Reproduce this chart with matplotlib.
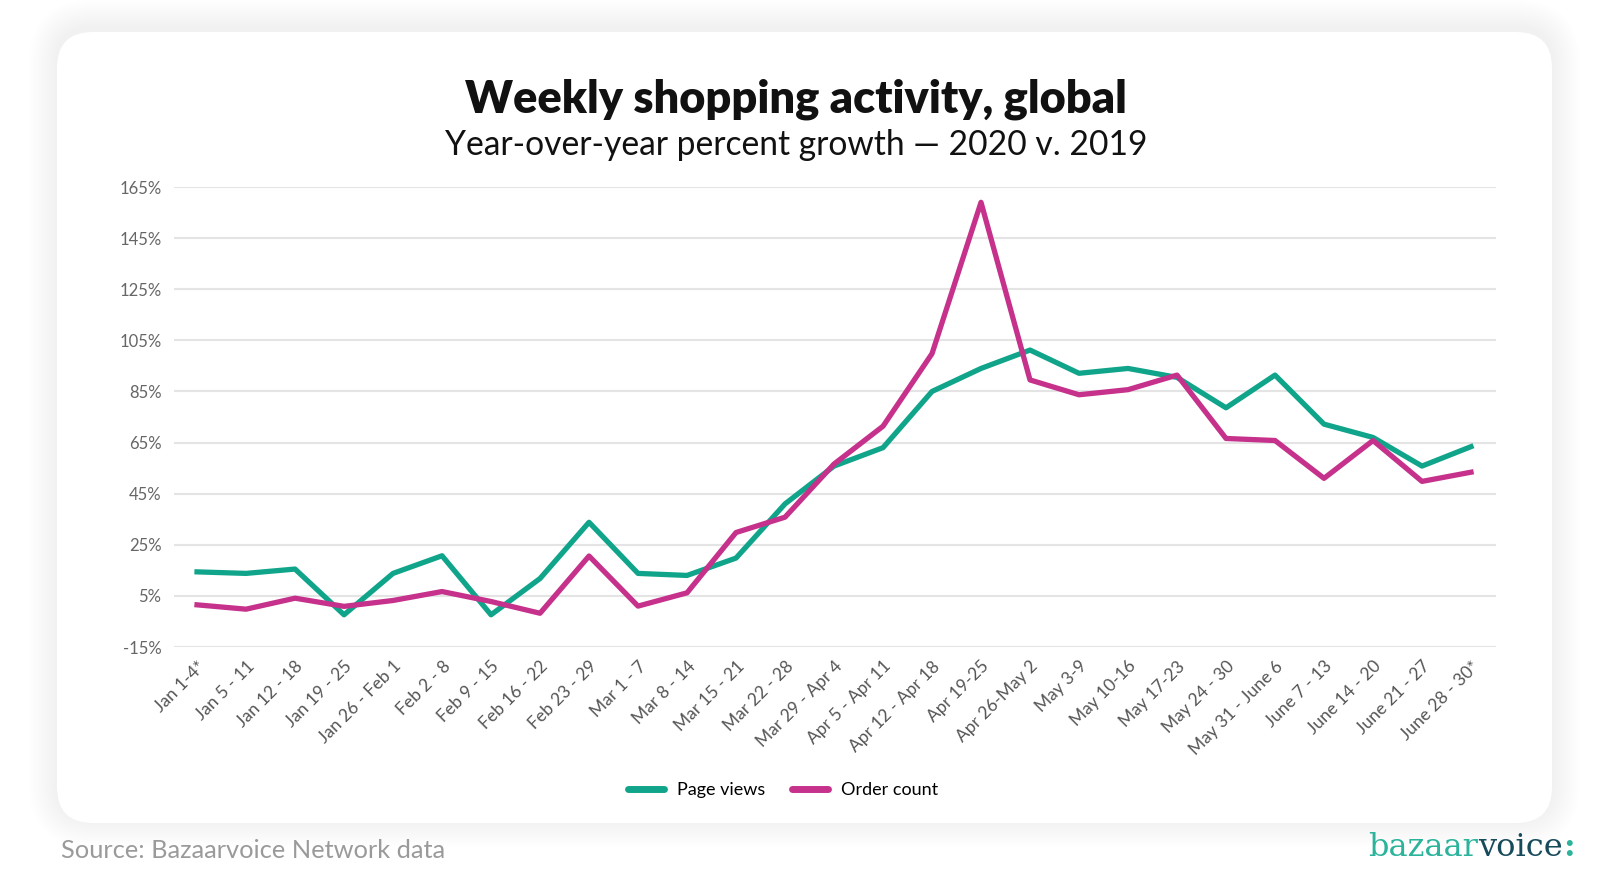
import matplotlib.pyplot as plt
from matplotlib.patches import FancyBboxPatch
import numpy as np

weeks = ["Jan 1-4*", "Jan 5 - 11", "Jan 12 - 18", "Jan 19 - 25", "Jan 26 - Feb 1",
         "Feb 2 - 8", "Feb 9 - 15", "Feb 16 - 22", "Feb 23 - 29", "Mar 1 - 7",
         "Mar 8 - 14", "Mar 15 - 21", "Mar 22 - 28", "Mar 29 - Apr 4", "Apr 5 - Apr 11",
         "Apr 12 - Apr 18", "Apr 19-25", "Apr 26-May 2", "May 3-9", "May 10-16",
         "May 17-23", "May 24 - 30", "May 31 - June 6", "June 7 - 13", "June 14 - 20",
         "June 21 - 27", "June 28 - 30*"]
page_views = [14.4, 13.8, 15.5, -2.4, 13.8, 20.7, -2.4, 11.8, 33.8, 13.8,
              13.0, 19.8, 41.0, 55.8, 63.0, 85.0, 94.0, 101.2, 92.1, 94.0,
              90.5, 78.6, 91.4, 72.2, 67.0, 55.8, 63.4]
order_count = [1.5, -0.2, 4.1, 0.9, 3.2, 6.7, 2.8, -1.8, 20.6, 1.0,
               6.2, 29.8, 35.8, 56.6, 71.4, 99.8, 159.0, 89.5, 83.7, 85.7,
               91.4, 66.6, 65.8, 51.0, 65.8, 49.8, 53.4]
y_ticks = [-15, 5, 25, 45, 65, 85, 105, 125, 145, 165]

teal = "#10a58b"
magenta = "#c5318b"

W, H = 1600, 894
fig = plt.figure(figsize=(16, 8.94), dpi=100)
fig.patch.set_facecolor("white")

# card (pixel coords) with a soft shadow all round
cx0, cy0, cx1, cy1 = 57, 32, 1552, 823


def card(pad, **kw):
    return FancyBboxPatch((cx0 - pad, H - cy1 - pad + 4), cx1 - cx0 + 2 * pad, cy1 - cy0 + 2 * pad,
                          boxstyle=f"round,pad=0,rounding_size={36 + pad}", transform=None, **kw)


for pad in range(28, 0, -2):
    fig.patches.append(card(pad, facecolor="black", edgecolor="none", alpha=0.0045, zorder=0))
fig.patches.append(FancyBboxPatch((cx0, H - cy1), cx1 - cx0, cy1 - cy0,
                                  boxstyle="round,pad=0,rounding_size=36", transform=None,
                                  facecolor="white", edgecolor="none", zorder=1))

ax = fig.add_axes([174 / W, 1 - 647 / H, 1322 / W, 460 / H])
ax.set_facecolor("none")
ax.set_zorder(2)

x = np.arange(len(weeks))
ax.plot(x, page_views, color=teal, lw=3.8, label="Page views")
ax.plot(x, order_count, color=magenta, lw=3.8, label="Order count")

ax.set_xlim(-0.47, len(weeks) - 1 + 0.51)
ax.set_ylim(-15, 165)
ax.set_yticks(y_ticks)
ax.set_yticklabels([f"{v}%" for v in y_ticks], fontsize=12, color="#666666", family="Lato")
ax.set_xticks(x)
ax.set_xticklabels(weeks, rotation=45, ha="right", rotation_mode="anchor",
                   fontsize=12.5, color="#555555", family="Lato")
ax.tick_params(axis="both", length=0)
ax.tick_params(axis="y", pad=9)
ax.tick_params(axis="x", pad=8)
ax.grid(axis="y", color="#e4e4e4", lw=1.5)
ax.set_axisbelow(True)
for s in ax.spines.values():
    s.set_visible(False)

fig.text(0.4975, 0.889, "Weekly shopping activity, global", ha="center", va="center",
         fontsize=32.5, fontweight="heavy", family="Lato", color="#111111", zorder=3)
fig.text(0.4975, 0.838, "Year-over-year percent growth \u2014 2020 v. 2019", ha="center",
         va="center", fontsize=24.2, family="Lato", color="#111111", zorder=3)

leg = fig.legend(loc="center", bbox_to_anchor=(0.4895, 0.116), ncol=2, frameon=False,
                 handlelength=2.0, handletextpad=0.7, columnspacing=1.5,
                 prop={"family": "Lato", "size": 13})
for h in leg.legend_handles:
    h.set_linewidth(5)
    h.set_solid_capstyle("round")

fig.text(61 / W, 1 - 850 / H, "Source: Bazaarvoice Network data", ha="left", va="center",
         fontsize=18.3, family="Lato", color="#9a9a9a")
t1 = fig.text(1368 / W, 1 - 848 / H, "bazaar", ha="left", va="center",
              fontsize=23, family="DejaVu Serif", color="#2bb39c")
fig.canvas.draw()
bb = t1.get_window_extent()
t2 = fig.text(bb.x1 / W, 1 - 848 / H, "voice", ha="left", va="center",
              fontsize=23, family="DejaVu Serif", color="#174b5c")
bb2 = t2.get_window_extent()
fig.text(bb2.x1 / W, 1 - 848 / H, ":", ha="left", va="center",
         fontsize=23, family="DejaVu Serif", fontweight="bold", color="#2bb39c")

fig.savefig("out.png", dpi=100)
